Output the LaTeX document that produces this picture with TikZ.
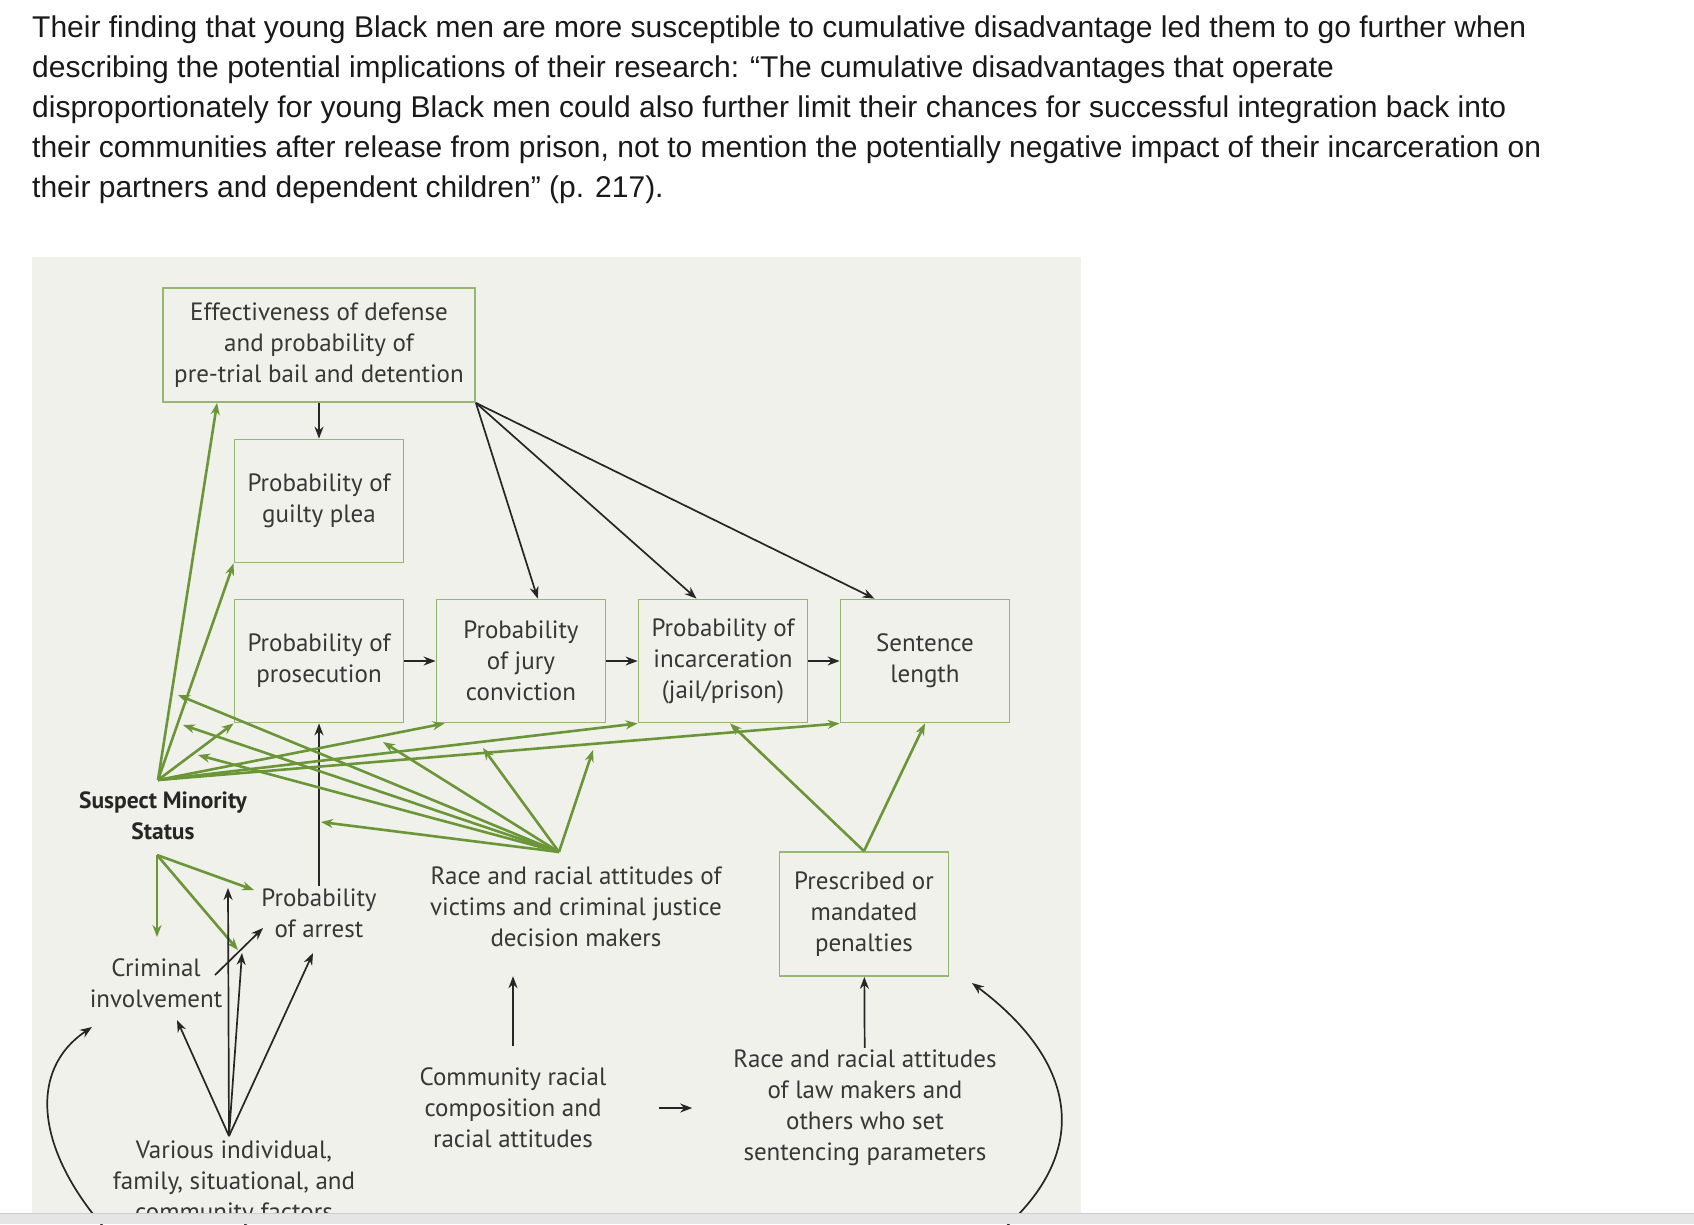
\documentclass[tikz,border=0pt]{standalone}
\usepackage{fontspec}
\setmainfont{Liberation Sans}
\newfontfamily\diafont{PT Sans}
\usetikzlibrary{positioning,arrows.meta}
\definecolor{panel}{RGB}{239,241,234}
\definecolor{lgreen}{RGB}{106,150,56}
\definecolor{bgreen}{RGB}{150,183,112}
\definecolor{ink}{RGB}{55,55,55}
\definecolor{strip}{RGB}{229,229,229}
\definecolor{stripline}{RGB}{205,205,205}

\begin{document}
\begin{tikzpicture}[x=1pt,y=-1pt,node distance=202pt,on grid,
		>={Stealth[length=12pt,width=9pt]},
		box/.style={rectangle,draw=bgreen,line width=1.8pt,minimum width=169pt,minimum height=123pt,align=center,text=ink,font=\diafont\fontsize{25}{31}\selectfont},
		lbl/.style={align=center,text=ink,inner sep=2pt,font=\diafont\fontsize{25}{31}\selectfont},
		para/.style={anchor=base west,inner sep=0pt,text=black!90,font=\fontsize{30}{30}\selectfont},
		grn/.style={->,draw=lgreen,line width=2.6pt},
		blk/.style={->,draw=black!85,line width=1.7pt}]
		\useasboundingbox (0,0) rectangle (1694,1224);
		\fill[panel] (32,257) rectangle (1081,1213);
		
		\node[para] (line1) at (32,37.5) {Their finding that young Black men are more susceptible to cumulative disadvantage led them to go further when};
		\node[para] (line2) at (32,77.5) {describing the potential implications of their research: “The cumulative disadvantages that operate};
		\node[para] (line3) at (32,117.5) {disproportionately for young Black men could also further limit their chances for successful integration back into};
		\node[para] (line4) at (32,157.5) {their communities after release from prison, not to mention the potentially negative impact of their incarceration on};
		\node[para] (line5) at (32,197.5) {their partners and dependent children” (p. 217).};
		
		\node[box]  (pros)  at (319,661)       {Probability of\\prosecution};
		\node[box]  (jury)  [right=of pros]    {Probability\\of jury\\conviction};
		\node[box]  (incar) [right=of jury]    {Probability of\\incarceration\\(jail/prison)};
		\node[box]  (sent)  [right=of incar]   {Sentence\\length};
		\node[box]  (plea)  [above=160pt of pros] {Probability of\\guilty plea};
		\node[box,minimum width=312pt,minimum height=114pt] (eff) [above=156pt of plea] {Effectiveness of defense\\and probability of\\pre-trial bail and detention};
		\node[box,minimum height=124pt] (presc) at (864,914) {Prescribed or\\mandated\\penalties};
		
		\node[lbl,text=black!85,font=\diafont\bfseries\fontsize{23.5}{31}\selectfont] (sms) at (163,816) {Suspect Minority\\Status};
		\node[lbl]  (arrest)    at (319,913)  {Probability\\of arrest};
		\node[lbl]  (crim)      at (156,983)  {Criminal\\involvement};
		\node[lbl]  (racedm)    at (576,907)  {Race and racial attitudes of\\victims and criminal justice\\decision makers};
		\node[lbl]  (community) at (513,1108) {Community racial\\composition and\\racial attitudes};
		\node[lbl]  (racelaw)   at (865,1108) {Race and racial attitudes\\of law makers and\\others who set\\sentencing parameters};
		\node[lbl]  (various)   at (234,1183) {Various individual,\\family, situational, and\\community factors};
		
		\coordinate (smsTop)  at (158,780);
		\coordinate (smsBot)  at (157,855);
		\coordinate (raceTop) at (559,852);
		\coordinate (vTop)    at (229,1136);
		\coordinate (crimIn)  at (157,937);
		\coordinate (crimOut) at (215,975);
		\coordinate (crimUp)  at (177,1020);
		\coordinate (arrIn)   at (263,928);
		\coordinate (arrLeft) at (254,890);
		\coordinate (arrLow)  at (313,953);
		\coordinate (onArr)   at (228,888);
		\coordinate (onCrim)  at (238,950);
		\coordinate (onCrimB) at (242,953);
		\coordinate (onEff)   at (178,695);
		\coordinate (onPlea)  at (183,725);
		\coordinate (onPros)  at (198,755);
		\coordinate (onUp)    at (321,822);
		\coordinate (onJury)  at (383,742);
		\coordinate (onIncar) at (483,748);
		\coordinate (onSent)  at (593,750);
		\coordinate (loopL)   at (108,1232);
		\coordinate (loopLin) at (92,1027);
		\coordinate (loopR)   at (1000,1232);
		\coordinate (loopRin) at (972,983);
		
		\draw[blk] (eff) -- (plea);
		\draw[blk] (eff.south east) -- (jury.75);
		\draw[blk] (eff.south east) -- (incar.113);
		\draw[blk] (eff.south east) -- (sent.129);
		\draw[blk] (pros) -- (jury);
		\draw[blk] (jury) -- (incar);
		\draw[blk] (incar) -- (sent);
		\draw[blk] (arrest) -- (pros);
		\draw[blk,shorten <=20pt,shorten >=27pt] (community.north) -- (community.north |- racedm.south);
		\draw[blk] (racelaw) -- (presc);
		\draw[blk,shorten <=50pt,shorten >=39pt] (community) -- (racelaw);
		
		\draw[grn] (smsTop) -- ([xshift=55pt]eff.south west);
		\draw[grn] (smsTop) -- (plea.south west);
		\draw[grn] (smsTop) -- (pros.south west);
		\draw[grn] (smsTop) -- ([xshift=9pt]jury.south west);
		\draw[grn] (smsTop) -- (incar.south west);
		\draw[grn] (smsTop) -- (sent.south west);
		
		\draw[grn] (raceTop) -- (onEff);
		\draw[grn] (raceTop) -- (onPlea);
		\draw[grn] (raceTop) -- (onPros);
		\draw[grn] (raceTop) -- (onUp);
		\draw[grn] (raceTop) -- (onJury);
		\draw[grn] (raceTop) -- (onIncar);
		\draw[grn] (raceTop) -- (onSent);
		
		\draw[grn] (presc.north) -- ([xshift=7pt]incar.south);
		\draw[grn] (presc.north) -- (sent.south);
		
		\draw[grn] (smsBot) -- (crimIn);
		\draw[grn] (smsBot) -- (arrLeft);
		\draw[grn] (smsBot) -- (onCrim);
		
		\draw[blk] (crimOut) -- (arrIn);
		\draw[blk] (vTop) -- (crimUp);
		\draw[blk] (vTop) -- (onArr);
		\draw[blk] (vTop) -- (onCrimB);
		\draw[blk] (vTop) -- (arrLow);
		
		\draw[blk] (loopL) .. controls (35,1150) and (28,1070) .. (loopLin);
		\draw[blk] (loopR) .. controls (1095,1150) and (1075,1060) .. (loopRin);
		
		\fill[strip] (0,1213) rectangle (1694,1224);
		\draw[stripline,line width=1pt] (0,1213) -- (1694,1213);
\end{tikzpicture}
\end{document}
